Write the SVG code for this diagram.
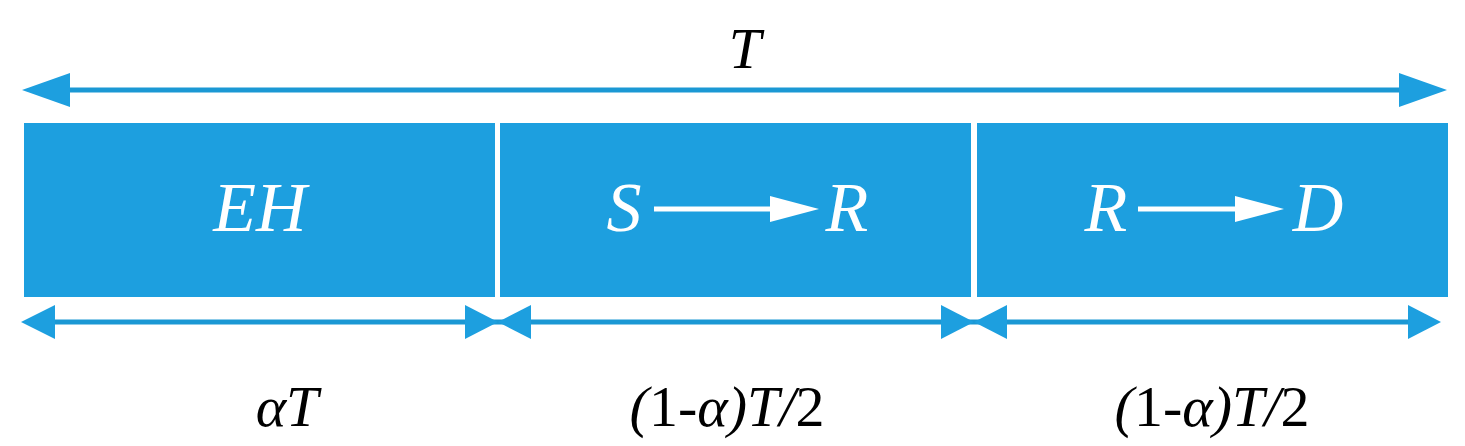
<svg xmlns="http://www.w3.org/2000/svg" width="1465" height="446" viewBox="0 0 1465 446">
<style>
.b{fill:#1d9fdf}
.w{font-family:"Liberation Serif",serif;font-style:italic;font-size:70px;fill:#fff;text-anchor:middle}
.l{font-family:"Liberation Serif",serif;font-size:58px;fill:#000;text-anchor:middle}
.dim{stroke:#1b98d4;stroke-width:5;fill:none}
.wa{stroke:#fff;stroke-width:5;fill:none}
</style>
<defs>
<marker id="a" viewBox="0 0 10 10" refX="10" refY="5" markerWidth="10" markerHeight="7" markerUnits="userSpaceOnUse" orient="auto-start-reverse"><path d="M0,0 L10,5 L0,10 Z" fill="#1b98d4"/></marker>
</defs>
<g id="connectors">
<line class="dim" x1="70" y1="90" x2="1400" y2="90"/>
<path d="M22,90 L70,73 L70,107 Z" class="b"/>
<path d="M1447,90 L1399,73 L1399,107 Z" class="b"/>
<line class="dim" x1="55" y1="322" x2="1408" y2="322"/>
<path d="M21,322 L55,305 L55,339 Z" class="b"/>
<path d="M498,322 L465,305 L465,339 Z" class="b"/>
<path d="M498,322 L531,305 L531,339 Z" class="b"/>
<path d="M974,322 L941,305 L941,339 Z" class="b"/>
<path d="M974,322 L1007,305 L1007,339 Z" class="b"/>
<path d="M1441,322 L1408,305 L1408,339 Z" class="b"/>
</g>
<g id="T"><text class="l" x="745" y="68" font-style="italic">T</text></g>
<g id="EH">
<rect class="b" x="24" y="123" width="471" height="174"/>
<text class="w" x="260" y="231">EH</text>
</g>
<g id="SR">
<rect class="b" x="500" y="123" width="471" height="174"/>
<text class="w" x="624" y="231">S</text>
<line class="wa" x1="654" y1="209" x2="772" y2="209"/>
<path d="M770,196 L819,209 L770,222 Z" fill="#fff"/>
<text class="w" x="847" y="231">R</text>
</g>
<g id="RD">
<rect class="b" x="977" y="123" width="471" height="174"/>
<text class="w" x="1106" y="231">R</text>
<line class="wa" x1="1138" y1="209" x2="1237" y2="209"/>
<path d="M1235,196 L1284,209 L1235,222 Z" fill="#fff"/>
<text class="w" x="1318" y="231">D</text>
</g>
<g id="labels">
<text class="l" x="287" y="426" font-style="italic">αT</text>
<text class="l" x="727" y="426"><tspan font-style="italic">(</tspan>1-<tspan font-style="italic">α)T/</tspan>2</text>
<text class="l" x="1212" y="426"><tspan font-style="italic">(</tspan>1-<tspan font-style="italic">α)T/</tspan>2</text>
</g>
</svg>
